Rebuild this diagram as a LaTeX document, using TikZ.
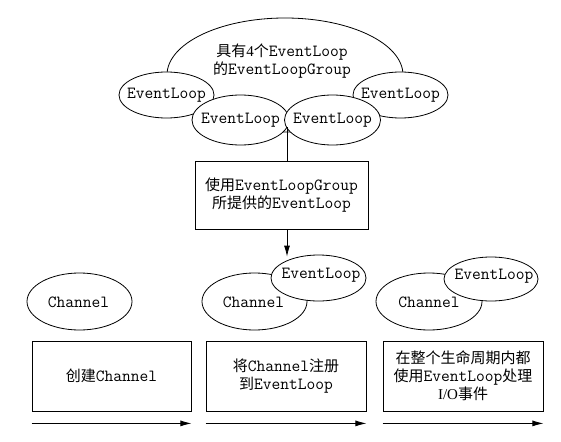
\documentclass[tikz,border=0pt]{standalone}
\usepackage{fontspec}
\setmainfont{Liberation Serif}
\newfontfamily\cjkfont{Noto Sans CJK SC}
\newcommand\zh[1]{{\cjkfont #1}}
\newcommand\mo[1]{{\fontsize{17}{18}\selectfont\ttfamily #1}}
\usetikzlibrary{shapes.geometric,arrows.meta}
\begin{document}
\begin{tikzpicture}[x=1pt,y=-1pt, line width=0.8pt,
  ell/.style={draw, ellipse, fill=white, inner sep=0pt},
  txt/.style={font=\fontsize{15}{18}\selectfont, align=center, inner sep=0pt},
  box/.style={draw, rectangle, fill=white, align=center, font=\fontsize{15}{18}\selectfont, inner sep=0pt},
  tip/.style={-{Latex[length=11pt,width=6pt]}}]
\useasboundingbox (0,0) rectangle (561,441);

% top group
\node[ell, minimum width=236, minimum height=114] (grp) at (285,75) {};
\node[ell, minimum width=95, minimum height=46] (el1) at (166.5,95) {};
\node[ell, minimum width=95, minimum height=46] (el4) at (400.5,95) {};
\node[ell, minimum width=97, minimum height=50] (el2) at (240.5,120) {};
\node[ell, minimum width=96, minimum height=50] (el3) at (332.5,120) {};
\node[txt] (grpt) at (282,61) {\zh{具有}4\zh{个}\mo{EventLoop}\\\zh{的}\mo{EventLoopGroup}};
\node[txt] (el1t) at (el1) {\mo{EventLoop}};
\node[txt] (el4t) at (el4) {\mo{EventLoop}};
\node[txt] (el2t) at (el2) {\mo{EventLoop}};
\node[txt] (el3t) at (el3) {\mo{EventLoop}};

% middle box
\coordinate (j) at (287,127);
\node[box, minimum width=173, minimum height=68] (mid) at (281.5,195)
  {\zh{使用}\mo{EventLoopGroup}\\\zh{所提供的}\mo{EventLoop}};

% channels and event loops
\node[ell, minimum width=105, minimum height=57] (ch1) at (79.5,301.5) {};
\node[ell, minimum width=105, minimum height=57] (ch2) at (254.5,301.5) {};
\node[ell, minimum width=95, minimum height=46] (elm) at (318.5,278) {};
\node[ell, minimum width=106, minimum height=57] (ch3) at (429,301.5) {};
\node[ell, minimum width=94, minimum height=44] (elr) at (491,279) {};
\node[txt] (ch1t) at (78.5,302) {\mo{Channel}};
\node[txt] (ch2t) at (253.5,302) {\mo{Channel}};
\node[txt] (ch3t) at (429,302) {\mo{Channel}};
\node[txt] (elmt) at (321,275) {\mo{EventLoop}};
\node[txt] (elrt) at (494,276) {\mo{EventLoop}};

\draw (j) -- (j |- mid.north);
\draw[tip] (j |- mid.south) -- ([yshift=-2pt]j |- elm.north);

% bottom boxes
\node[box, minimum width=159, minimum height=70] (b1) at (111.5,376) {\zh{创建}\mo{Channel}};
\node[box, minimum width=160, minimum height=70] (b2) at (286,376)
  {\zh{将}\mo{Channel}\zh{注册}\\\zh{到}\mo{EventLoop}};
\node[box, minimum width=160, minimum height=70] (b3) at (463,376)
  {\zh{在整个生命周期内都}\\\zh{使用}\mo{EventLoop}\zh{处理}\\I/O\zh{事件}};

\coordinate (a1s) at ([yshift=-12pt]b1.south west);
\coordinate (a1e) at ([yshift=-12pt]b1.south east);
\coordinate (a2s) at ([yshift=-12pt]b2.south west);
\coordinate (a2e) at ([yshift=-12pt]b2.south east);
\coordinate (a3s) at ([yshift=-12pt]b3.south west);
\coordinate (a3e) at ([yshift=-12pt]b3.south east);
\draw[tip] (a1s) -- (a1e);
\draw[tip] (a2s) -- (a2e);
\draw[tip] (a3s) -- (a3e);
\end{tikzpicture}
\end{document}
